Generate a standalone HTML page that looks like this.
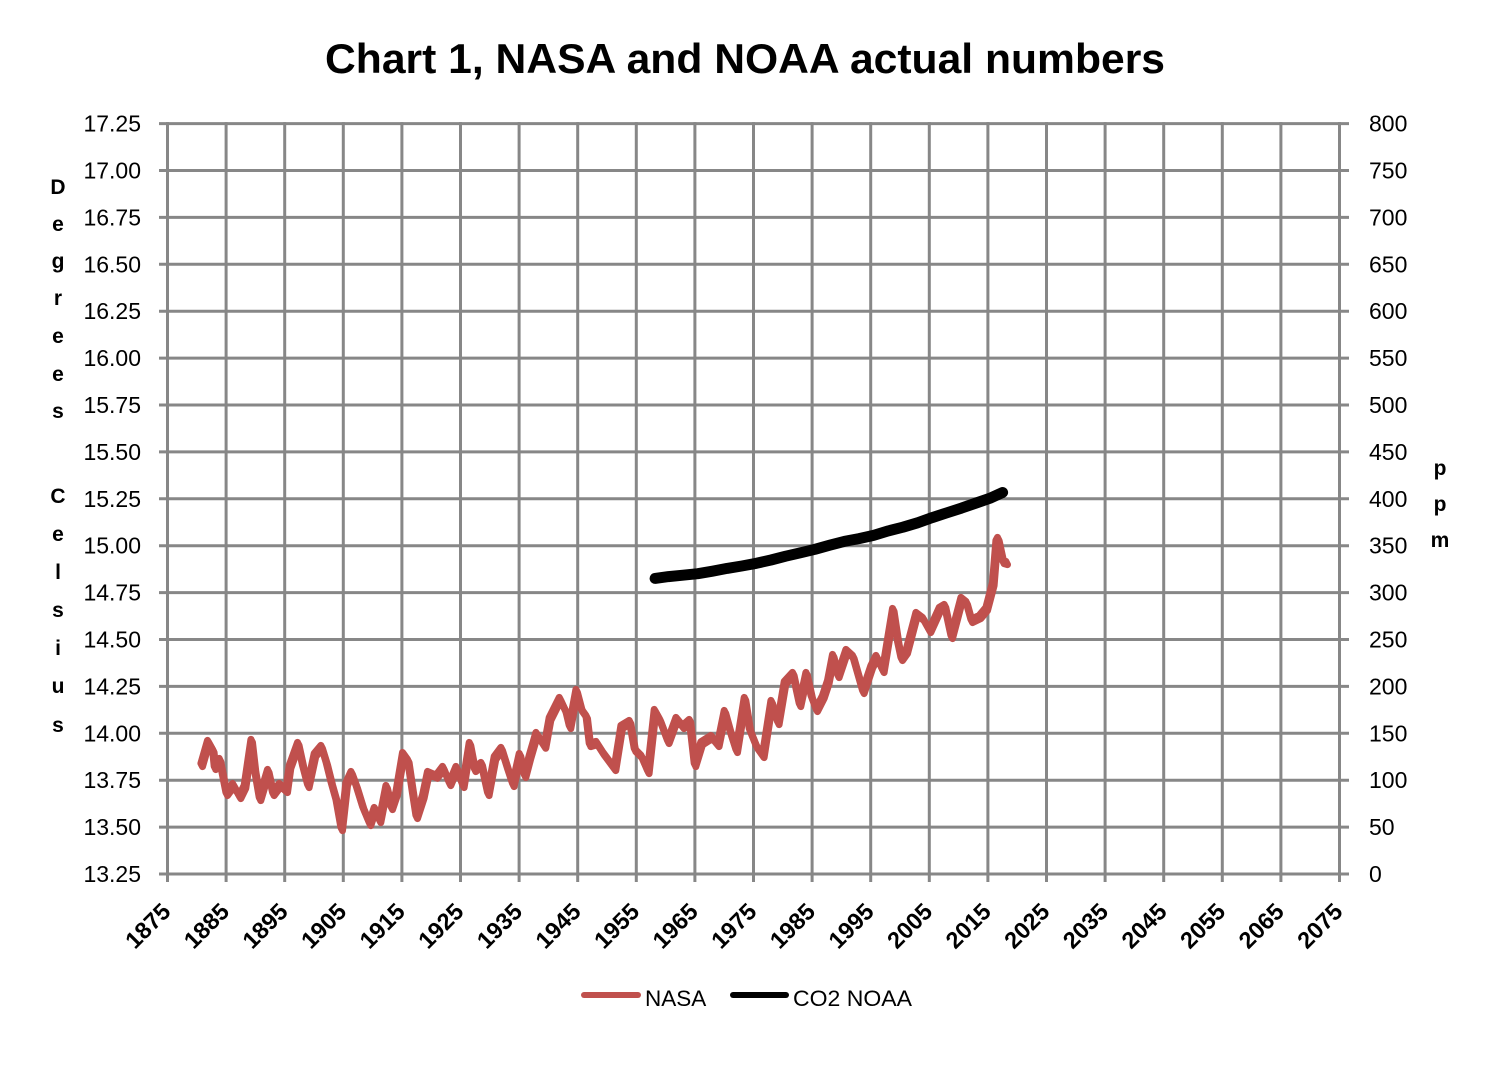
<!DOCTYPE html>
<html>
<head>
<meta charset="utf-8">
<style>
  html,body{margin:0;padding:0;background:#ffffff;}
  svg{display:block;}
  text{font-family:"Liberation Sans",sans-serif;fill:#000;}
</style>
</head>
<body>
<svg width="1488" height="1074" viewBox="0 0 1488 1074" xmlns="http://www.w3.org/2000/svg">
  <rect x="0" y="0" width="1488" height="1074" fill="#ffffff"/>

  <!-- Title -->
  <text x="325" y="73" font-size="42" font-weight="bold" textLength="840" lengthAdjust="spacingAndGlyphs">Chart 1, NASA and NOAA actual numbers</text>

  <!-- Grid -->
  <g stroke="#878787" stroke-width="3" fill="none">
    <line x1="159" y1="874" x2="1349" y2="874"/>
    <line x1="159" y1="827.1" x2="1349" y2="827.1"/>
    <line x1="159" y1="780.2" x2="1349" y2="780.2"/>
    <line x1="159" y1="733.3" x2="1349" y2="733.3"/>
    <line x1="159" y1="686.4" x2="1349" y2="686.4"/>
    <line x1="159" y1="639.5" x2="1349" y2="639.5"/>
    <line x1="159" y1="592.6" x2="1349" y2="592.6"/>
    <line x1="159" y1="545.7" x2="1349" y2="545.7"/>
    <line x1="159" y1="498.8" x2="1349" y2="498.8"/>
    <line x1="159" y1="451.9" x2="1349" y2="451.9"/>
    <line x1="159" y1="405" x2="1349" y2="405"/>
    <line x1="159" y1="358.1" x2="1349" y2="358.1"/>
    <line x1="159" y1="311.2" x2="1349" y2="311.2"/>
    <line x1="159" y1="264.3" x2="1349" y2="264.3"/>
    <line x1="159" y1="217.4" x2="1349" y2="217.4"/>
    <line x1="159" y1="170.5" x2="1349" y2="170.5"/>
    <line x1="159" y1="123.6" x2="1349" y2="123.6"/>
    <line x1="167.5" y1="122.1" x2="167.5" y2="882"/>
    <line x1="226.1" y1="122.1" x2="226.1" y2="882"/>
    <line x1="284.7" y1="122.1" x2="284.7" y2="882"/>
    <line x1="343.3" y1="122.1" x2="343.3" y2="882"/>
    <line x1="401.9" y1="122.1" x2="401.9" y2="882"/>
    <line x1="460.5" y1="122.1" x2="460.5" y2="882"/>
    <line x1="519.1" y1="122.1" x2="519.1" y2="882"/>
    <line x1="577.7" y1="122.1" x2="577.7" y2="882"/>
    <line x1="636.3" y1="122.1" x2="636.3" y2="882"/>
    <line x1="694.9" y1="122.1" x2="694.9" y2="882"/>
    <line x1="753.5" y1="122.1" x2="753.5" y2="882"/>
    <line x1="812.1" y1="122.1" x2="812.1" y2="882"/>
    <line x1="870.7" y1="122.1" x2="870.7" y2="882"/>
    <line x1="929.3" y1="122.1" x2="929.3" y2="882"/>
    <line x1="987.9" y1="122.1" x2="987.9" y2="882"/>
    <line x1="1046.5" y1="122.1" x2="1046.5" y2="882"/>
    <line x1="1105.1" y1="122.1" x2="1105.1" y2="882"/>
    <line x1="1163.7" y1="122.1" x2="1163.7" y2="882"/>
    <line x1="1222.3" y1="122.1" x2="1222.3" y2="882"/>
    <line x1="1280.9" y1="122.1" x2="1280.9" y2="882"/>
    <line x1="1339.5" y1="122.1" x2="1339.5" y2="882"/>
  </g>

  <!-- Left axis labels -->
  <g font-size="23" text-anchor="end">
    <text x="141" y="882">13.25</text>
    <text x="141" y="835.1">13.50</text>
    <text x="141" y="788.2">13.75</text>
    <text x="141" y="741.3">14.00</text>
    <text x="141" y="694.4">14.25</text>
    <text x="141" y="647.5">14.50</text>
    <text x="141" y="600.6">14.75</text>
    <text x="141" y="553.7">15.00</text>
    <text x="141" y="506.8">15.25</text>
    <text x="141" y="459.9">15.50</text>
    <text x="141" y="413">15.75</text>
    <text x="141" y="366.1">16.00</text>
    <text x="141" y="319.2">16.25</text>
    <text x="141" y="272.3">16.50</text>
    <text x="141" y="225.4">16.75</text>
    <text x="141" y="178.5">17.00</text>
    <text x="141" y="131.6">17.25</text>
  </g>

  <!-- Right axis labels -->
  <g font-size="23" text-anchor="start">
    <text x="1369" y="882">0</text>
    <text x="1369" y="835.1">50</text>
    <text x="1369" y="788.2">100</text>
    <text x="1369" y="741.3">150</text>
    <text x="1369" y="694.4">200</text>
    <text x="1369" y="647.5">250</text>
    <text x="1369" y="600.6">300</text>
    <text x="1369" y="553.7">350</text>
    <text x="1369" y="506.8">400</text>
    <text x="1369" y="459.9">450</text>
    <text x="1369" y="413">500</text>
    <text x="1369" y="366.1">550</text>
    <text x="1369" y="319.2">600</text>
    <text x="1369" y="272.3">650</text>
    <text x="1369" y="225.4">700</text>
    <text x="1369" y="178.5">750</text>
    <text x="1369" y="131.6">800</text>
  </g>

  <!-- Left axis title -->
  <g font-size="21" font-weight="bold" text-anchor="middle">
    <text x="58" y="194">D</text>
    <text x="58" y="231">e</text>
    <text x="58" y="268">g</text>
    <text x="58" y="305">r</text>
    <text x="58" y="343">e</text>
    <text x="58" y="381">e</text>
    <text x="58" y="418">s</text>
    <text x="58" y="503">C</text>
    <text x="58" y="541">e</text>
    <text x="58" y="579">l</text>
    <text x="58" y="617">s</text>
    <text x="58" y="655">i</text>
    <text x="58" y="693">u</text>
    <text x="58" y="732">s</text>
  </g>

  <!-- Right axis title -->
  <g font-size="21" font-weight="bold" text-anchor="middle">
    <text x="1440" y="475">p</text>
    <text x="1440" y="511">p</text>
    <text x="1440" y="547">m</text>
  </g>

  <!-- X axis labels -->
  <g font-size="23.5" font-weight="bold" text-anchor="end">
    <text x="172" y="913" transform="rotate(-45 172 913)">1875</text>
    <text x="230.6" y="913" transform="rotate(-45 230.6 913)">1885</text>
    <text x="289.2" y="913" transform="rotate(-45 289.2 913)">1895</text>
    <text x="347.8" y="913" transform="rotate(-45 347.8 913)">1905</text>
    <text x="406.4" y="913" transform="rotate(-45 406.4 913)">1915</text>
    <text x="465" y="913" transform="rotate(-45 465 913)">1925</text>
    <text x="523.6" y="913" transform="rotate(-45 523.6 913)">1935</text>
    <text x="582.2" y="913" transform="rotate(-45 582.2 913)">1945</text>
    <text x="640.8" y="913" transform="rotate(-45 640.8 913)">1955</text>
    <text x="699.4" y="913" transform="rotate(-45 699.4 913)">1965</text>
    <text x="758" y="913" transform="rotate(-45 758 913)">1975</text>
    <text x="816.6" y="913" transform="rotate(-45 816.6 913)">1985</text>
    <text x="875.2" y="913" transform="rotate(-45 875.2 913)">1995</text>
    <text x="933.8" y="913" transform="rotate(-45 933.8 913)">2005</text>
    <text x="992.4" y="913" transform="rotate(-45 992.4 913)">2015</text>
    <text x="1051" y="913" transform="rotate(-45 1051 913)">2025</text>
    <text x="1109.6" y="913" transform="rotate(-45 1109.6 913)">2035</text>
    <text x="1168.2" y="913" transform="rotate(-45 1168.2 913)">2045</text>
    <text x="1226.8" y="913" transform="rotate(-45 1226.8 913)">2055</text>
    <text x="1285.4" y="913" transform="rotate(-45 1285.4 913)">2065</text>
    <text x="1344" y="913" transform="rotate(-45 1344 913)">2075</text>
  </g>

  <!-- NASA series (drawn three times with small offsets to mimic noisy thick band) -->
  <defs>
    <polyline id="nasa" fill="none" stroke="#c0504d" stroke-width="7" stroke-linejoin="round" stroke-linecap="round"
    points="201.7,765 208.3,742 213.3,751 215,768 220,760 226.7,794 233.3,785 240,797 245,786.7 251.7,741 255,770 260,799 268.3,771 273.3,794 280,785 286.7,791 290,767 298.3,744 303.3,767 308.3,786 315,755 321.7,747 326.7,763.3 331.7,783.3 336.7,801 341.7,829 346.7,784 351.7,773 356.7,786.7 363.3,808 370,824 375,809 380,821 386.7,787 391.7,808 396.7,793.3 403.3,754 408.3,761 413.3,795 416.7,817 423.3,796.7 428.3,773 436.7,776.7 443.3,768 450,784 456.7,768 463.3,786 470,744 475,770 481.7,764 488.3,794 495,758 501.7,749 508.3,770 513.3,785 520,755 525,776 530,757 536.7,734 545,746.7 550,719 560,699 566.7,713.3 570,727 576.7,691 581.7,710 586.7,717 590,745 596.7,743 603.3,753.3 615,769 621.7,727 630,722 635,750 641.7,756.7 648.3,772 655,711 660,720 668.3,742 676.7,719 683.3,727 690,721 695,765 701.7,743.3 711.7,737 718.3,745 725,712 730,730 736.7,751 745,699 750,730 756.7,746.7 763.3,756 771.7,702 778.3,723 785,683 793.3,674 800,705 806.7,674 811.7,696.7 816.7,710 823.3,697 828.3,682 833.3,656 838.3,676 846.7,651 853.3,657 863.3,692 871.7,667 876.7,657 883.3,671 893.3,610 898.3,643 901.7,659 906.7,652 916.7,614 923.3,619 930,631 940,609 945,606 951.7,637 961.7,599 966.7,603 971.7,621 980,617 986.7,609 993.3,584 996.7,542 998.3,539 1003.3,562 1006.7,563"/>
  </defs>
  <use href="#nasa" transform="translate(0.8,1.6)"/>
  <use href="#nasa" transform="translate(-0.8,-1.6)"/>
  <use href="#nasa"/>

  <!-- CO2 NOAA series -->
  <polyline fill="none" stroke="#000000" stroke-width="11" stroke-linejoin="round" stroke-linecap="round"
    points="655.1,578.4 668.5,576.6 683,575.2 697.8,573.7 712.5,571.2 727.1,568.4 741.8,566 756.4,563.3 771,560 785.7,556.2 800.4,552.8 815,549.3 829.7,545.2 844.3,541.4 859,538.6 873.6,535.4 888.3,530.9 902.9,527.2 917.6,522.8 932.2,517.6 946.9,512.8 961.5,508.1 976.2,503 990.8,497.9 1002.6,492.5"/>

  <!-- Legend -->
  <line x1="584" y1="995" x2="638" y2="995" stroke="#c0504d" stroke-width="6" stroke-linecap="round"/>
  <text x="645" y="1006" font-size="22.5">NASA</text>
  <line x1="733" y1="995" x2="786" y2="995" stroke="#000000" stroke-width="6" stroke-linecap="round"/>
  <text x="793" y="1006" font-size="22.5" textLength="119" lengthAdjust="spacingAndGlyphs">CO2 NOAA</text>
</svg>
</body>
</html>
